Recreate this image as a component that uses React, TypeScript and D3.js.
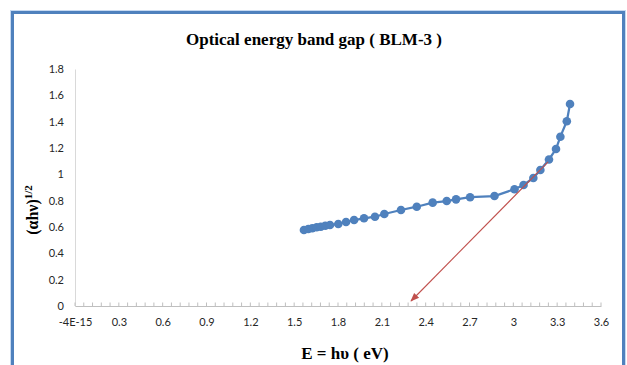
import React, { useEffect, useRef } from "react";
import * as d3 from "d3";

const energy = [1.567, 1.597, 1.624, 1.654, 1.682, 1.713, 1.745, 1.802, 1.855, 1.91, 1.978, 2.053, 2.117, 2.231, 2.339, 2.448, 2.544, 2.608, 2.704, 2.871, 3.008, 3.07, 3.137, 3.185, 3.244, 3.292, 3.322, 3.366, 3.388];
const absorb = [0.577, 0.585, 0.59, 0.598, 0.602, 0.61, 0.615, 0.623, 0.638, 0.653, 0.666, 0.678, 0.699, 0.729, 0.754, 0.785, 0.797, 0.81, 0.826, 0.835, 0.887, 0.919, 0.972, 1.033, 1.113, 1.192, 1.286, 1.403, 1.534];
const xTicks = [0, 0.3, 0.6, 0.9, 1.2, 1.5, 1.8, 2.1, 2.4, 2.7, 3, 3.3, 3.6];
const xTickLabels = ["-4E-15", "0.3", "0.6", "0.9", "1.2", "1.5", "1.8", "2.1", "2.4", "2.7", "3", "3.3", "3.6"];
const yTicks = [0, 0.2, 0.4, 0.6, 0.8, 1, 1.2, 1.4, 1.6, 1.8];
const yTickLabels = ["0", "0.2", "0.4", "0.6", "0.8", "1", "1.2", "1.4", "1.6", "1.8"];
const arrowFrom = [3.238, 1.094];
const arrowTo = [2.3, 0.038];
const title = "Optical energy band gap ( BLM-3 )";

const W = 627;
const H = 365;

export default function App() {
  const ref = useRef<SVGSVGElement>(null);
  useEffect(() => {
    const svg = d3.select(ref.current);
    svg.selectAll("*").remove();
    const x = d3.scaleLinear().domain([0, 3.6]).range([75, 601]);
    const y = d3.scaleLinear().domain([0, 1.8]).range([306, 69]);

    // frame
    svg.append("rect").attr("x", 10.5).attr("y", 10.5).attr("width", 615).attr("height", 420)
      .attr("fill", "none").attr("stroke", "#c6d9f1").attr("stroke-width", 1);
    svg.append("rect").attr("x", 12.5).attr("y", 12.5).attr("width", 611).attr("height", 420)
      .attr("fill", "none").attr("stroke", "#4f81bd").attr("stroke-width", 3);

    svg.append("text").attr("x", 314).attr("y", 45).attr("text-anchor", "middle")
      .attr("font-family", "Liberation Serif, serif").attr("font-weight", "bold").attr("font-size", 17)
      .attr("fill", "#000").text(title);

    // y axis
    const yAxis = d3.axisLeft(y).tickValues(yTicks).tickSize(0).tickPadding(11)
      .tickFormat((d, i) => yTickLabels[i]);
    const gy = svg.append("g").attr("transform", `translate(${x(0)},0)`).call(yAxis);
    gy.select(".domain").attr("stroke", "#d9d9d9");
    gy.selectAll("text").attr("font-family", "Lato, sans-serif").attr("font-size", 11).attr("fill", "#262626");

    // x axis
    const xAxis = d3.axisBottom(x).tickValues(xTicks).tickSize(0).tickPadding(12)
      .tickFormat((d, i) => xTickLabels[i]);
    const gx = svg.append("g").attr("transform", `translate(0,${y(0)})`).call(xAxis);
    gx.select(".domain").attr("stroke", "#bfbfbf");
    gx.selectAll("text").attr("font-family", "Lato, sans-serif").attr("font-size", 11).attr("fill", "#262626");
    const minor = d3.range(0, 61).map((i) => i * 0.06);
    svg.append("g").selectAll("line").data(minor).join("line")
      .attr("x1", (d) => x(d)).attr("x2", (d) => x(d))
      .attr("y1", y(0)).attr("y2", y(0) - 3.5)
      .attr("stroke", "#bfbfbf").attr("stroke-width", 1);

    // axis titles
    svg.append("text").attr("x", 345).attr("y", 359).attr("text-anchor", "middle")
      .attr("font-family", "Liberation Serif, serif").attr("font-weight", "bold").attr("font-size", 17)
      .attr("fill", "#000").text("E = hυ ( eV)");
    const yt = svg.append("text").attr("transform", "translate(38,210) rotate(-90)").attr("text-anchor", "middle")
      .attr("font-family", "Liberation Serif, serif").attr("font-weight", "bold").attr("font-size", 16)
      .attr("fill", "#000");
    yt.append("tspan").text("(αhν)");
    yt.append("tspan").attr("dy", -6).attr("font-size", 11).text("1/2");

    // series
    const pts = energy.map((e, i) => [e, absorb[i]] as [number, number]);
    const line = d3.line<[number, number]>().x((d) => x(d[0])).y((d) => y(d[1]));
    svg.append("path").attr("d", line(pts)).attr("fill", "none").attr("stroke", "#4f81bd").attr("stroke-width", 2.25);
    svg.append("g").selectAll("circle").data(pts).join("circle")
      .attr("cx", (d) => x(d[0])).attr("cy", (d) => y(d[1])).attr("r", 4.3)
      .attr("fill", "#4f81bd");

    // arrow
    const defs = svg.append("defs");
    defs.append("marker").attr("id", "arr").attr("viewBox", "0 0 10 10").attr("refX", 9).attr("refY", 5)
      .attr("markerWidth", 8).attr("markerHeight", 8).attr("orient", "auto")
      .append("path").attr("d", "M0,1 L10,5 L0,9 z").attr("fill", "#c0504d");
    svg.append("line")
      .attr("x1", x(arrowFrom[0])).attr("y1", y(arrowFrom[1]))
      .attr("x2", x(arrowTo[0])).attr("y2", y(arrowTo[1]))
      .attr("stroke", "#c0504d").attr("stroke-width", 1.1).attr("marker-end", "url(#arr)");
  }, []);
  return (
    <svg ref={ref} width={W} height={H} style={{ position: "absolute", left: 0, top: 0, background: "#fff" }} />
  );
}
